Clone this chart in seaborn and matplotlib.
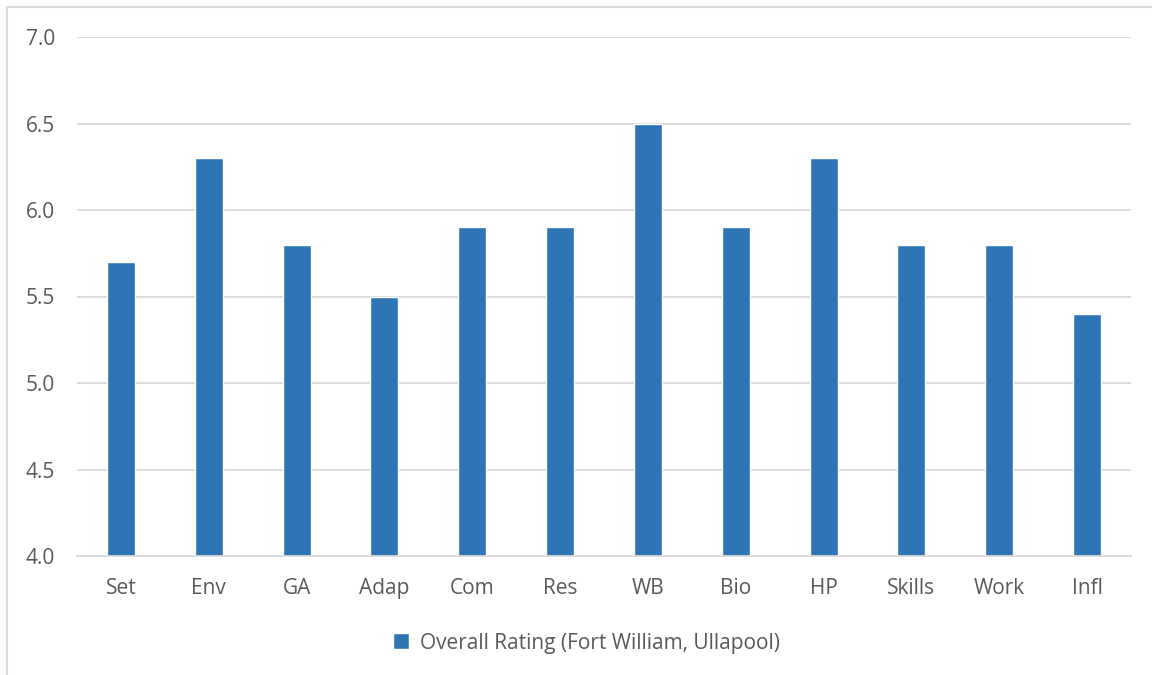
import matplotlib
matplotlib.use("Agg")
import matplotlib.pyplot as plt
from matplotlib.patches import Rectangle
import seaborn as sns
import pandas as pd

categories = ["Set", "Env", "GA", "Adap", "Com", "Res", "WB", "Bio", "HP", "Skills", "Work", "Infl"]
ratings = [5.7, 6.3, 5.8, 5.5, 5.9, 5.9, 6.5, 5.9, 6.3, 5.8, 5.8, 5.4]
series_name = "Overall Rating (Fort William, Ullapool)"
y_ticks = [4.0, 4.5, 5.0, 5.5, 6.0, 6.5, 7.0]

sns.set_theme(style="white")
plt.rcParams["font.family"] = ["Open Sans", "DejaVu Sans"]

text_color = "#595959"
bar_color = "#2E75B6"
grid_color = "#D9D9D9"

df = pd.DataFrame({"category": categories, "rating": ratings, "series": series_name})

fig = plt.figure(figsize=(11.52, 6.75), dpi=100)
ax = fig.add_axes([77 / 1152, 1 - 556 / 675, (1131 - 77) / 1152, (556 - 37) / 675])

sns.barplot(data=df, x="category", y="rating", hue="series", palette=[bar_color],
            width=0.32, ax=ax, saturation=1, legend=True)

ax.set_ylim(4.0, 7.0)
ax.set_xlim(-0.5, len(categories) - 0.5)
ax.set_yticks(y_ticks)
ax.set_yticklabels([f"{t:.1f}" for t in y_ticks])
ax.yaxis.grid(True, color=grid_color, linewidth=1.3)
ax.set_axisbelow(True)
for side in ["top", "right", "left"]:
    ax.spines[side].set_visible(False)
ax.spines["bottom"].set_color(grid_color)
ax.spines["bottom"].set_linewidth(1.3)
ax.tick_params(axis="both", length=0, colors=text_color, labelsize=15)
ax.tick_params(axis="y", pad=16)
ax.tick_params(axis="x", pad=16)
ax.set_xlabel("")
ax.set_ylabel("")

leg = ax.legend(loc="center", bbox_to_anchor=(0.483, -0.168), frameon=False,
                fontsize=15, handlelength=0.8, handleheight=0.8, handletextpad=0.5)
for t in leg.get_texts():
    t.set_color(text_color)

# chart frame
fig.patches.append(Rectangle((7 / 1152, -0.05), 1.1, 1 - 7 / 675 + 0.05,
                             transform=fig.transFigure, fill=False,
                             edgecolor=grid_color, linewidth=1.5))

fig.savefig("out.png", dpi=100, facecolor="white")
